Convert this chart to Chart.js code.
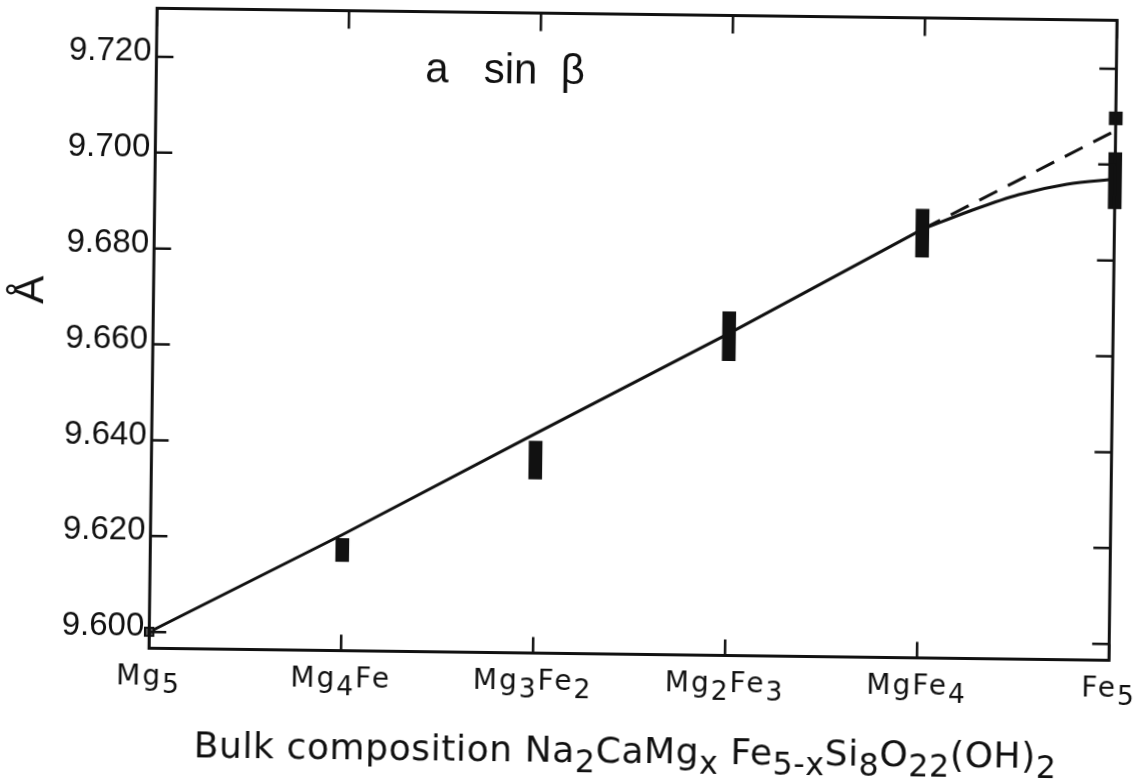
<!DOCTYPE html>
<html>
<head>
<meta charset="utf-8">
<script src="https://cdn.jsdelivr.net/npm/chart.js@4"></script>
<style>
  html, body { margin: 0; padding: 0; background: #fff; overflow: hidden; }
  /* the original plate sits a little skewed on the page */
  #plot { position: absolute; left: 0; top: 0; transform: rotate(0.72deg); }
</style>
</head>
<body>
<canvas id="plot" width="1139" height="783"></canvas>
<script>
// -----------------------------
// Data
// -----------------------------
// "_" marks a subscript, "_{...}" a longer one
const compositions = ["Mg_5", "Mg_4Fe", "Mg_3Fe_2", "Mg_2Fe_3", "MgFe_4", "Fe_5"];
const yTicks = [9.600, 9.620, 9.640, 9.660, 9.680, 9.700, 9.720];

// measured a sin(beta) ranges, low / high (Angstrom)
const rangeX    = [1, 2, 3, 4, 5, 5];
const rangeLow  = [9.6152, 9.6329, 9.6581, 9.6802, 9.6908, 9.7083];
const rangeHigh = [9.6200, 9.6408, 9.6683, 9.6902, 9.7025, 9.7110];

// Mg end member
const mg5X = [0];
const mg5Low = [9.5990];
const mg5High = [9.6010];

// straight part of the drawn curve
const lineX = [0, 1, 2, 3, 4];
const lineY = [9.600, 9.6208, 9.6424, 9.6638, 9.686];

// bend towards Fe5
const bendX = [4, 4.25, 4.5, 4.75, 5];
const bendY = [9.686, 9.6900, 9.6935, 9.6958, 9.697];

// straight extrapolation to Fe5
const dashX = [4, 5];
const dashY = [9.686, 9.7071];

const xTitle = "Bulk composition Na_2CaMg_x Fe_{5-x}Si_8O_{22}(OH)_2";
const yTitle = "Å";
const note = "a   sin  β";

const INK = "#111";

// -----------------------------
// Text with subscripts
// -----------------------------
function parseRuns(str) {
    const runs = [];
    let buf = "";
    let i = 0;
    while (i < str.length) {
        if (str[i] === "_") {
            if (buf) { runs.push({ t: buf, sub: false }); buf = ""; }
            if (str[i + 1] === "{") {
                const end = str.indexOf("}", i);
                runs.push({ t: str.slice(i + 2, end), sub: true });
                i = end + 1;
            } else {
                runs.push({ t: str[i + 1], sub: true });
                i += 2;
            }
        } else {
            buf += str[i];
            i++;
        }
    }
    if (buf) runs.push({ t: buf, sub: false });
    return runs;
}

function drawRich(ctx, str, x, y, size, family, align, subScale, drop, spacing) {
    const runs = parseRuns(str);
    const fontFor = r => (r.sub ? size * subScale : size) + "px " + family;
    ctx.letterSpacing = spacing + "px";
    let total = 0;
    runs.forEach(r => {
        ctx.font = fontFor(r);
        r.w = ctx.measureText(r.t).width;
        total += r.w;
    });
    let cx = align === "center" ? x - total / 2 : x;
    ctx.textAlign = "left";
    ctx.textBaseline = "alphabetic";
    runs.forEach(r => {
        ctx.font = fontFor(r);
        ctx.fillText(r.t, cx, r.sub ? y + size * drop : y);
        cx += r.w;
    });
    ctx.letterSpacing = "0px";
}

// -----------------------------
// Frame, inward ticks and labels
// -----------------------------
const framePlugin = {
    id: "frame",
    afterDraw(chart) {
        const { ctx, chartArea: a, scales: { x, y } } = chart;
        ctx.save();
        ctx.strokeStyle = INK;
        ctx.fillStyle = INK;

        ctx.lineWidth = 3;
        ctx.strokeRect(a.left, a.top, a.right - a.left, a.bottom - a.top);

        ctx.lineWidth = 2.5;
        ctx.beginPath();
        yTicks.forEach(v => {
            const py = y.getPixelForValue(v);
            ctx.moveTo(a.left, py);
            ctx.lineTo(a.left + 17, py);
            ctx.moveTo(a.right, py);
            ctx.lineTo(a.right - 17, py);
        });
        compositions.forEach((c, i) => {
            const px = x.getPixelForValue(i);
            ctx.moveTo(px, a.bottom);
            ctx.lineTo(px, a.bottom - 16);
            ctx.moveTo(px, a.top);
            ctx.lineTo(px, a.top + 18);
        });
        ctx.stroke();

        // composition labels
        compositions.forEach((c, i) => {
            drawRich(ctx, c, x.getPixelForValue(i), a.bottom + 36, 28,
                '"DejaVu Sans", sans-serif', "center", 0.95, 0.3, 2);
        });

        // axis title
        drawRich(ctx, xTitle, a.left + 46, a.bottom + 108, 36,
            '"DejaVu Sans", sans-serif', "left", 0.88, 0.28, 0.6);

        // y axis unit
        ctx.save();
        ctx.translate(30, a.top + 283);
        ctx.rotate(-Math.PI / 2);
        ctx.font = '42px "Liberation Sans", sans-serif';
        ctx.textAlign = "center";
        ctx.textBaseline = "middle";
        ctx.fillText(yTitle, 0, 0);
        ctx.restore();

        // quantity plotted
        ctx.font = '42px "Liberation Sans", sans-serif';
        ctx.textAlign = "left";
        ctx.textBaseline = "alphabetic";
        ctx.fillText(note, a.left + 269, a.top + 70);

        ctx.restore();
    }
};

// -----------------------------
// Chart
// -----------------------------
const chart = new Chart(document.getElementById("plot"), {
    type: "line",
    data: {
        datasets: [
            {
                type: "line",
                data: lineX.map((v, i) => ({ x: v, y: lineY[i] })),
                borderColor: INK,
                borderWidth: 3,
                pointRadius: 0,
                tension: 0,
                order: 2
            },
            {
                type: "line",
                data: bendX.map((v, i) => ({ x: v, y: bendY[i] })),
                borderColor: INK,
                borderWidth: 3,
                pointRadius: 0,
                cubicInterpolationMode: "monotone",
                order: 2
            },
            {
                type: "line",
                data: dashX.map((v, i) => ({ x: v, y: dashY[i] })),
                borderColor: INK,
                borderWidth: 3,
                borderDash: [20, 12],
                pointRadius: 0,
                order: 3
            },
            {
                type: "bar",
                data: rangeX.map((v, i) => ({ x: v, y: [rangeLow[i], rangeHigh[i]] })),
                backgroundColor: INK,
                barThickness: 13,
                grouped: false,
                clip: false,
                order: 1
            },
            {
                type: "bar",
                data: mg5X.map((v, i) => ({ x: v, y: [mg5Low[i], mg5High[i]] })),
                backgroundColor: "#555",
                borderColor: INK,
                borderWidth: 2,
                borderSkipped: false,
                barThickness: 10,
                grouped: false,
                clip: false,
                order: 1
            }
        ]
    },
    options: {
        responsive: false,
        animation: false,
        layout: { padding: { top: 13.5, right: 26.7, bottom: 0, left: 0 } },
        plugins: {
            legend: { display: false },
            tooltip: { enabled: false }
        },
        scales: {
            x: {
                type: "linear",
                min: 0,
                max: 5,
                offset: false,
                grid: { display: false, drawTicks: false },
                border: { display: false },
                ticks: { display: false },
                afterFit: scale => {
                    scale.height = 129.5;
                    scale.paddingLeft = 0;
                    scale.paddingRight = 0;
                }
            },
            y: {
                type: "linear",
                min: 9.5966,
                max: 9.7301,
                grid: { display: false, drawTicks: false },
                border: { display: false },
                afterBuildTicks: scale => {
                    scale.ticks = yTicks.map(v => ({ value: v }));
                },
                afterFit: scale => {
                    scale.width = 152.3;
                    scale.paddingTop = 0;
                    scale.paddingBottom = 0;
                },
                ticks: {
                    color: INK,
                    padding: 5,
                    labelOffset: -5,
                    font: { family: '"Liberation Sans", sans-serif', size: 33 },
                    callback: v => v.toFixed(3)
                }
            }
        }
    },
    plugins: [framePlugin]
});
</script>
</body>
</html>
